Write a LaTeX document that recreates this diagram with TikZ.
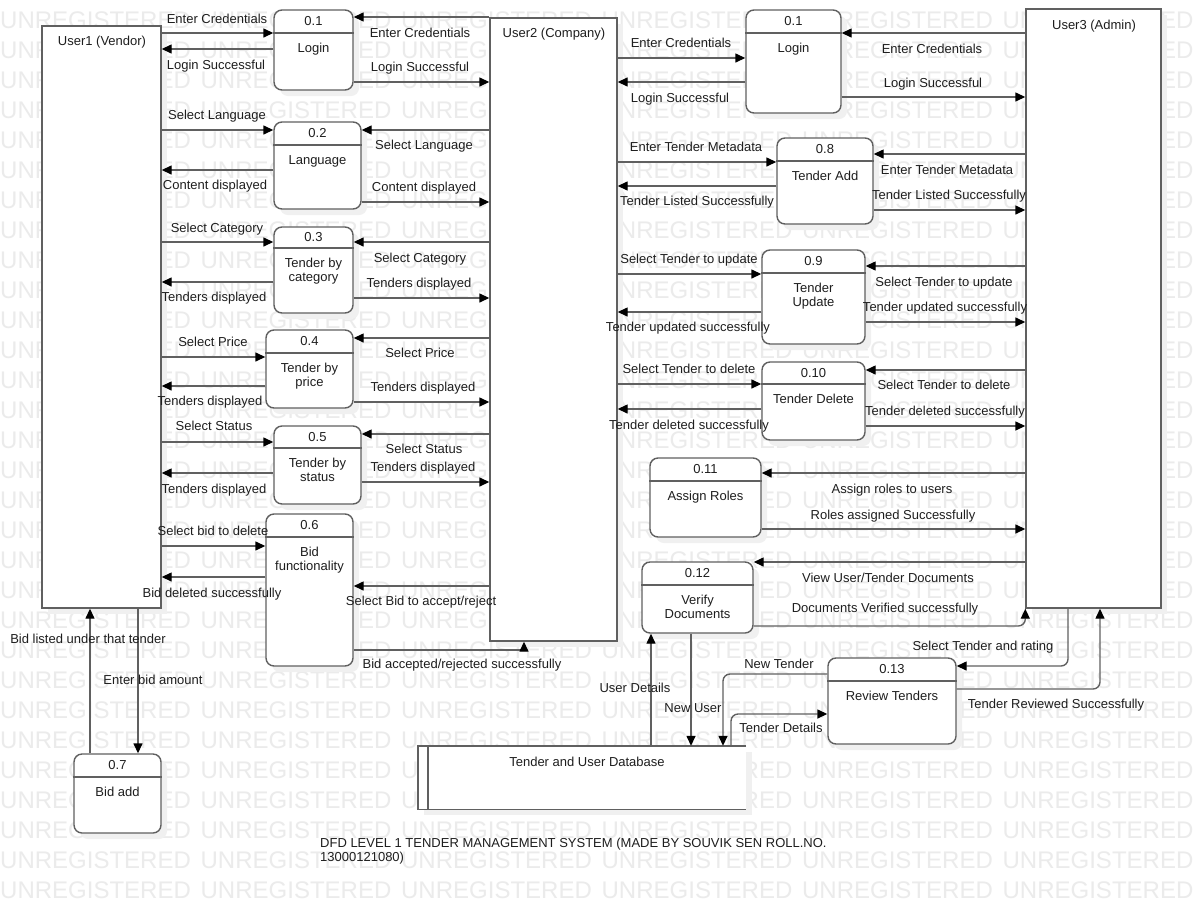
\documentclass[tikz,border=0pt]{standalone}
\usepackage{fontspec}
\setmainfont{Liberation Sans}
\usetikzlibrary{arrows.meta,fit,calc}

\definecolor{linec}{HTML}{606060}
\definecolor{wmark}{HTML}{EBEBEB}
\definecolor{shade}{HTML}{F0F0F0}
\definecolor{inkc}{HTML}{1E1E1E}

\tikzset{
  every node/.style={font=\fontsize{13}{14}\selectfont, text=inkc},
  boxshadow/.style={fill=shade, draw=none},
  procshape/.style={draw=linec, fill=white, line width=1.4pt, rounded corners=8pt, inner sep=0pt},
  entityshape/.style={draw=linec, fill=white, line width=1.4pt, inner sep=0pt},
  divider/.style={draw=linec, line width=1.4pt},
  flow/.style={draw=linec, line width=1.4pt, -{Triangle[length=10pt,width=9pt,color=black,fill=black]}},
  bendflow/.style={flow, rounded corners=7pt},
  flowlabel/.style={inner sep=0pt, text height=9.5pt, text depth=2.5pt, anchor=center, yshift=-2pt},
  proclabel/.style={align=center, inner sep=0pt, anchor=north, font=\fontsize{13}{13.5}\selectfont},
  procnum/.style={inner sep=0pt},
  wmtext/.style={text=wmark, font=\fontsize{24}{24}\selectfont, inner sep=0pt, anchor=base west}
}

% one row of the background stamp
\newcommand{\wmrow}{%
  \makebox[200.5pt][l]{UNREGISTERED}\makebox[200.5pt][l]{UNREGISTERED}%
  \makebox[200.5pt][l]{UNREGISTERED}\makebox[200.5pt][l]{UNREGISTERED}%
  \makebox[200.5pt][l]{UNREGISTERED}\makebox[200.5pt][l]{UNREGISTERED}}

% process bubble: name, x1, y1, x2, y2, divider y, number, title
\newcommand{\dfdproc}[8]{%
  \fill[boxshadow, rounded corners=8pt] (#2+6,#3+6) rectangle (#4+6,#5+6);
  \node[procshape, fit={(#2,#3) (#4,#5)}] (#1) {};
  \draw[divider] (#1.west |- 0,#6) -- (#1.east |- 0,#6);
  \node[procnum] (#1-num) at ($(#1.north)!0.5!(#1.north |- 0,#6)$) {#7};
  \node[proclabel] (#1-txt) at ($(#1.north |- 0,#6)+(0,10)$) {#8};
}

% external entity: name, x1, y1, x2, y2
\newcommand{\dfdentity}[5]{%
  \fill[boxshadow] (#2+6,#3+6) rectangle (#4+6,#5+6);
  \node[entityshape, fit={(#2,#3) (#4,#5)}] (#1) {};
}

\begin{document}
\begin{tikzpicture}[x=1pt,y=-1pt]
\useasboundingbox (0,0) rectangle (1201,911);
\fill[white] (0,0) rectangle (1201,911);

% background stamp
\foreach \k in {0,...,29} {
  \node[wmtext] (wm\k) at (0,28+30*\k) {\wmrow};
}

% external entities
\dfdentity{u1}{42}{26}{161}{608}
\node (u1-lbl) at (102,42) {User1 (Vendor)};
\dfdentity{u2}{490}{18}{617}{641}
\node (u2-lbl) at (554,34) {User2 (Company)};
\dfdentity{u3}{1026}{9}{1161}{608}
\node (u3-lbl) at (1094,26) {User3 (Admin)};

% processes
\dfdproc{p01a}{274}{10}{353}{90}{33}{0.1}{Login}
\dfdproc{p02}{274}{122}{361}{209}{145}{0.2}{Language}
\dfdproc{p03}{274}{227}{353}{313}{248}{0.3}{Tender by\\category}
\dfdproc{p04}{266}{330}{353}{408}{353}{0.4}{Tender by\\price}
\dfdproc{p05}{274}{426}{361}{504}{448}{0.5}{Tender by\\status}
\dfdproc{p06}{266}{514}{353}{666}{537}{0.6}{Bid\\functionality}
\dfdproc{p07}{74}{754}{161}{833}{777}{0.7}{Bid add}
\dfdproc{p01b}{746}{10}{841}{113}{33}{0.1}{Login}
\dfdproc{p08}{777}{138}{873}{224}{161}{0.8}{Tender Add}
\dfdproc{p09}{762}{250}{865}{344}{273}{0.9}{Tender\\Update}
\dfdproc{p10}{762}{362}{865}{440}{384}{0.10}{Tender Delete}
\dfdproc{p11}{650}{458}{761}{537}{481}{0.11}{Assign Roles}
\dfdproc{p12}{642}{562}{753}{633}{585}{0.12}{Verify\\Documents}
\dfdproc{p13}{828}{658}{956}{744}{681}{0.13}{Review Tenders}

% data store
\fill[boxshadow] (424,752) rectangle (752,815);
\node[fit={(418,746) (746,809)}, fill=white, inner sep=0pt] (db) {};
\draw[divider] (db.north east) -- (db.north west) -- (db.south west) -- (db.south east);
\draw[divider] ([xshift=10pt]db.north west) -- ([xshift=10pt]db.south west);
\node (db-lbl) at (587,762) {Tender and User Database};

% vendor flows
\draw[flow] (u1.east |- 0,33) -- (p01a.west |- 0,33);
\draw[flow] (p01a.west |- 0,49) -- (u1.east |- 0,49);
\draw[flow] (u2.west |- 0,17) -- (p01a.east |- 0,17);
\draw[flow] (p01a.east |- 0,82) -- (u2.west |- 0,82);

\draw[flow] (u1.east |- 0,130) -- (p02.west |- 0,130);
\draw[flow] (p02.west |- 0,170) -- (u1.east |- 0,170);
\draw[flow] (u2.west |- 0,130) -- (p02.east |- 0,130);
\draw[flow] (p02.east |- 0,202) -- (u2.west |- 0,202);

\draw[flow] (u1.east |- 0,242) -- (p03.west |- 0,242);
\draw[flow] (p03.west |- 0,282) -- (u1.east |- 0,282);
\draw[flow] (u2.west |- 0,242) -- (p03.east |- 0,242);
\draw[flow] (p03.east |- 0,298) -- (u2.west |- 0,298);

\draw[flow] (u1.east |- 0,357) -- (p04.west |- 0,357);
\draw[flow] (p04.west |- 0,386) -- (u1.east |- 0,386);
\draw[flow] (u2.west |- 0,338) -- (p04.east |- 0,338);
\draw[flow] (p04.east |- 0,402) -- (u2.west |- 0,402);

\draw[flow] (u1.east |- 0,442) -- (p05.west |- 0,442);
\draw[flow] (p05.west |- 0,473) -- (u1.east |- 0,473);
\draw[flow] (u2.west |- 0,434) -- (p05.east |- 0,434);
\draw[flow] (p05.east |- 0,482) -- (u2.west |- 0,482);

\draw[flow] (u1.east |- 0,546) -- (p06.west |- 0,546);
\draw[flow] (p06.west |- 0,577) -- (u1.east |- 0,577);
\draw[flow] (u2.west |- 0,586) -- (p06.east |- 0,586);
\draw[flow] (p06.east |- 0,650) -| (u2.south -| 524,0);

\draw[flow] (p07.north -| 90,0) -- (u1.south -| 90,0);
\draw[flow] (u1.south -| 138,0) -- (p07.north -| 138,0);

% company / admin flows
\draw[flow] (u2.east |- 0,58) -- (p01b.west |- 0,58);
\draw[flow] (p01b.west |- 0,82) -- (u2.east |- 0,82);
\draw[flow] (u3.west |- 0,33) -- (p01b.east |- 0,33);
\draw[flow] (p01b.east |- 0,97) -- (u3.west |- 0,97);

\draw[flow] (u2.east |- 0,162) -- (p08.west |- 0,162);
\draw[flow] (p08.west |- 0,186) -- (u2.east |- 0,186);
\draw[flow] (u3.west |- 0,154) -- (p08.east |- 0,154);
\draw[flow] (p08.east |- 0,210) -- (u3.west |- 0,210);

\draw[flow] (u2.east |- 0,274) -- (p09.west |- 0,274);
\draw[flow] (p09.west |- 0,312) -- (u2.east |- 0,312);
\draw[flow] (u3.west |- 0,266) -- (p09.east |- 0,266);
\draw[flow] (p09.east |- 0,322) -- (u3.west |- 0,322);

\draw[flow] (u2.east |- 0,384) -- (p10.west |- 0,384);
\draw[flow] (p10.west |- 0,409) -- (u2.east |- 0,409);
\draw[flow] (u3.west |- 0,370) -- (p10.east |- 0,370);
\draw[flow] (p10.east |- 0,426) -- (u3.west |- 0,426);

\draw[flow] (u3.west |- 0,473) -- (p11.east |- 0,473);
\draw[flow] (p11.east |- 0,529) -- (u3.west |- 0,529);

\draw[flow] (u3.west |- 0,562) -- (p12.east |- 0,562);
\draw[bendflow] (p12.east |- 0,626) -| (u3.south west);

\draw[bendflow] (u3.south -| 1068,0) |- (p13.east |- 0,666);
\draw[bendflow] (p13.east |- 0,689) -| (u3.south -| 1100,0);

% data store flows
\draw[flow] (db.north -| 651,0) -- (p12.south -| 651,0);
\draw[flow] (p12.south -| 691,0) -- (db.north -| 691,0);
\draw[bendflow] (p13.west |- 0,674) -| (db.north -| 723,0);
\draw[bendflow] (db.north -| 731,0) |- (p13.west |- 0,714);

% flow labels, vendor side
\node[flowlabel] (l1) at (217,18) {Enter Credentials};
\node[flowlabel] (l2) at (216,64) {Login Successful};
\node[flowlabel] (l3) at (217,114) {Select Language};
\node[flowlabel] (l4) at (215,184) {Content displayed};
\node[flowlabel] (l5) at (217,227) {Select Category};
\node[flowlabel] (l6) at (214,296) {Tenders displayed};
\node[flowlabel] (l7) at (213,341) {Select Price};
\node[flowlabel] (l8) at (210,400) {Tenders displayed};
\node[flowlabel] (l9) at (214,425) {Select Status};
\node[flowlabel] (l10) at (214,488) {Tenders displayed};
\node[flowlabel] (l11) at (213,530) {Select bid to delete};
\node[flowlabel] (l12) at (212,592) {Bid deleted successfully};
\node[flowlabel] (l13) at (88,638) {Bid listed under that tender};
\node[flowlabel] (l14) at (153,679) {Enter bid amount};

% flow labels, company side of the vendor processes
\node[flowlabel] (l15) at (420,32) {Enter Credentials};
\node[flowlabel] (l16) at (420,66) {Login Successful};
\node[flowlabel] (l17) at (424,144) {Select Language};
\node[flowlabel] (l18) at (424,186) {Content displayed};
\node[flowlabel] (l19) at (420,257) {Select Category};
\node[flowlabel] (l20) at (419,282) {Tenders displayed};
\node[flowlabel] (l21) at (420,352) {Select Price};
\node[flowlabel] (l22) at (423,386) {Tenders displayed};
\node[flowlabel] (l23) at (424,448) {Select Status};
\node[flowlabel] (l24) at (423,466) {Tenders displayed};
\node[flowlabel] (l25) at (421,600) {Select Bid to accept/reject};
\node[flowlabel] (l26) at (462,663) {Bid accepted/rejected successfully};

% flow labels, company side of the admin processes
\node[flowlabel] (l27) at (681,42) {Enter Credentials};
\node[flowlabel] (l28) at (680,97) {Login Successful};
\node[flowlabel] (l29) at (696,146) {Enter Tender Metadata};
\node[flowlabel] (l30) at (697,200) {Tender Listed Successfully};
\node[flowlabel] (l31) at (689,258) {Select Tender to update};
\node[flowlabel] (l32) at (688,326) {Tender updated successfully};
\node[flowlabel] (l33) at (689,368) {Select Tender to delete};
\node[flowlabel] (l34) at (689,424) {Tender deleted successfully};

% flow labels, admin side
\node[flowlabel] (l35) at (932,48) {Enter Credentials};
\node[flowlabel] (l36) at (933,82) {Login Successful};
\node[flowlabel] (l37) at (947,169) {Enter Tender Metadata};
\node[flowlabel] (l38) at (949,194) {Tender Listed Successfully};
\node[flowlabel] (l39) at (944,281) {Select Tender to update};
\node[flowlabel] (l40) at (945,306) {Tender updated successfully};
\node[flowlabel] (l41) at (944,384) {Select Tender to delete};
\node[flowlabel] (l42) at (945,410) {Tender deleted successfully};
\node[flowlabel] (l43) at (892,488) {Assign roles to users};
\node[flowlabel] (l44) at (893,514) {Roles assigned Successfully};
\node[flowlabel] (l45) at (888,577) {View User/Tender Documents};
\node[flowlabel] (l46) at (885,607) {Documents Verified successfully};
\node[flowlabel] (l47) at (983,645) {Select Tender and rating};
\node[flowlabel] (l48) at (1056,703) {Tender Reviewed Successfully};

% flow labels, data store
\node[flowlabel] (l49) at (779,663) {New Tender};
\node[flowlabel] (l50) at (781,727) {Tender Details};
\node[flowlabel] (l51) at (635,687) {User Details};
\node[flowlabel] (l52) at (693,707) {New User};

% caption
\node[anchor=north west, align=left, inner sep=0pt, font=\fontsize{13}{13.5}\selectfont] (caption) at (320,838)
  {DFD LEVEL 1 TENDER MANAGEMENT SYSTEM (MADE BY SOUVIK SEN ROLL.NO.\\13000121080)};
\end{tikzpicture}
\end{document}
